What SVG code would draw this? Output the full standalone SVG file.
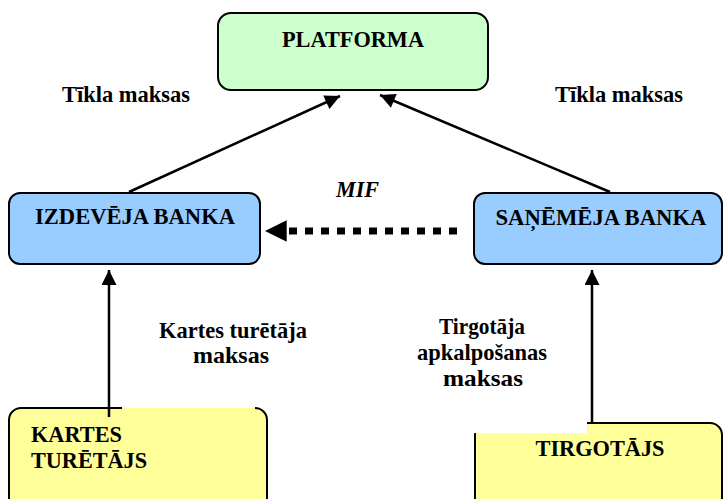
<svg xmlns="http://www.w3.org/2000/svg" width="725" height="499" viewBox="0 0 725 499">
<style>
  .box { stroke: #000; stroke-width: 2; }
  .t { font-family: "Liberation Serif", "Times New Roman", serif; font-weight: bold; font-size: 22.5px; fill: #000; }
  .c { text-anchor: middle; }
  .ln { stroke: #000; stroke-width: 2.5; fill: none; }
</style>
<defs>
  <marker id="ah" viewBox="0 0 10 10" refX="10" refY="5" markerWidth="7" markerHeight="6" markerUnits="strokeWidth" orient="auto">
    <path d="M0,0 L10,5 L0,10 Z" fill="#000"/>
  </marker>
  <marker id="ahb" viewBox="0 0 10 10" refX="10" refY="5" markerWidth="3.3" markerHeight="3.1" markerUnits="strokeWidth" orient="auto">
    <path d="M0,0 L10,5 L0,10 Z" fill="#000"/>
  </marker>
</defs>

<g id="platforma">
  <rect class="box" x="218" y="13" width="270" height="77" rx="13" fill="#CCFFCC"/>
  <text class="t c" x="353" y="47" textLength="142" lengthAdjust="spacingAndGlyphs">PLATFORMA</text>
</g>

<g id="izdeveja">
  <rect class="box" x="9" y="193" width="251" height="71" rx="11" fill="#99CCFF"/>
  <text class="t c" x="135" y="224" textLength="200" lengthAdjust="spacingAndGlyphs">IZDEVĒJA BANKA</text>
</g>

<g id="sanemeja">
  <rect class="box" x="474" y="193" width="248" height="71" rx="11" fill="#99CCFF"/>
  <text class="t c" x="601" y="225" textLength="211" lengthAdjust="spacingAndGlyphs">SAŅĒMĒJA BANKA</text>
</g>

<g id="kartes">
  <rect class="box" x="9" y="408" width="258" height="110" rx="12" fill="#FFFF99"/>
  <rect x="122" y="405" width="133" height="4.5" fill="#FFFF99"/>
  <rect x="122" y="403" width="133" height="5" fill="#FFFFFF"/>
  <text class="t" x="31" y="442" textLength="91" lengthAdjust="spacingAndGlyphs">KARTES</text>
  <text class="t" x="31" y="468" textLength="116" lengthAdjust="spacingAndGlyphs">TURĒTĀJS</text>
</g>

<g id="tirgotajs">
  <rect class="box" x="475" y="423" width="247" height="95" rx="12" fill="#FFFF99"/>
  <rect x="470" y="418" width="117" height="15" fill="#FFFFFF"/>
  <text class="t c" x="600" y="456" textLength="129" lengthAdjust="spacingAndGlyphs">TIRGOTĀJS</text>
</g>

<g id="connectors">
  <line class="ln" x1="129" y1="192" x2="340" y2="96" marker-end="url(#ah)"/>
  <line class="ln" x1="610" y1="192" x2="380" y2="95" marker-end="url(#ah)"/>
  <line class="ln" x1="109" y1="417" x2="109" y2="270" marker-end="url(#ah)"/>
  <line class="ln" x1="592" y1="423" x2="592" y2="270" marker-end="url(#ah)"/>
  <line x1="457" y1="231" x2="265" y2="231" stroke="#000" stroke-width="7" stroke-dasharray="8,8" marker-end="url(#ahb)"/>
</g>

<g id="labels">
  <text class="t" x="62" y="102" textLength="128" lengthAdjust="spacingAndGlyphs">Tīkla maksas</text>
  <text class="t" x="555" y="102" textLength="128" lengthAdjust="spacingAndGlyphs">Tīkla maksas</text>
  <text class="t" x="336" y="197" font-style="italic" textLength="43" lengthAdjust="spacingAndGlyphs">MIF</text>
  <text class="t c" x="233" y="338" textLength="148" lengthAdjust="spacingAndGlyphs">Kartes turētāja</text>
  <text class="t c" x="231" y="363" textLength="76" lengthAdjust="spacingAndGlyphs">maksas</text>
  <text class="t c" x="482" y="334" textLength="86" lengthAdjust="spacingAndGlyphs">Tirgotāja</text>
  <text class="t c" x="482" y="360" textLength="130" lengthAdjust="spacingAndGlyphs">apkalpošanas</text>
  <text class="t c" x="483" y="386" textLength="80" lengthAdjust="spacingAndGlyphs">maksas</text>
</g>
</svg>
